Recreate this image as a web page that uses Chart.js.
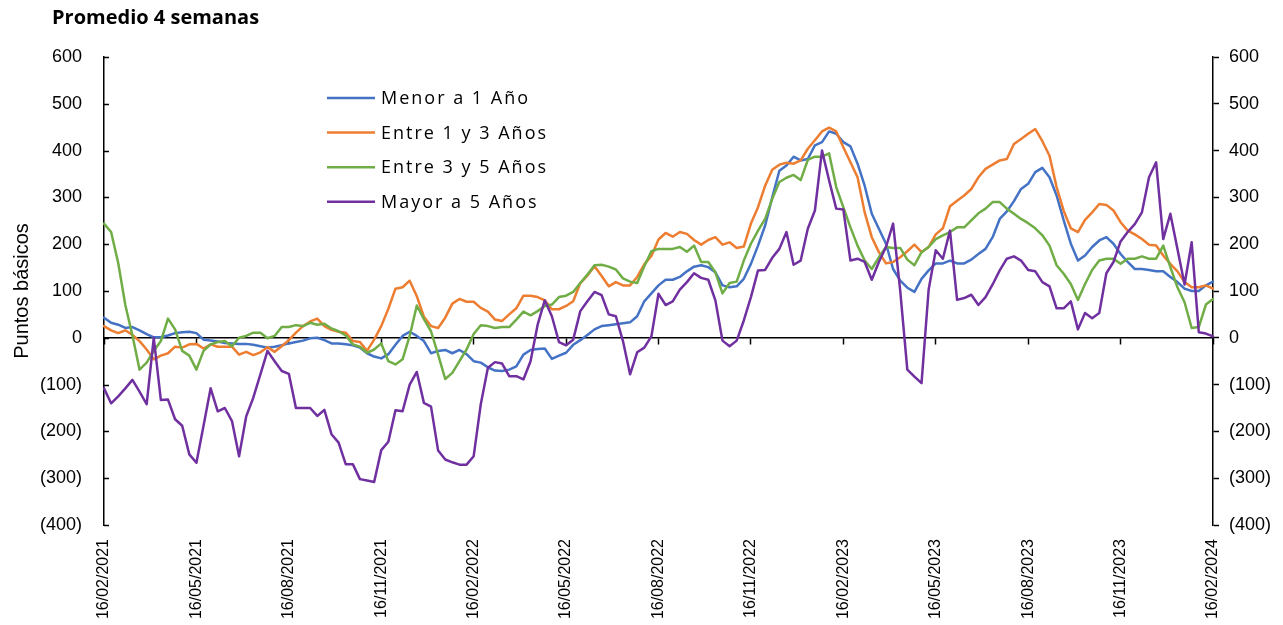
<!DOCTYPE html>
<html>
<head>
<meta charset="utf-8">
<script src="https://cdn.jsdelivr.net/npm/chart.js@4.4.1/dist/chart.umd.min.js"></script>
<style>
html,body{margin:0;padding:0;background:#fff;overflow:hidden}
#wrap{position:relative;width:1283px;height:625px}
</style>
</head>
<body>
<div id="wrap"><canvas id="c" width="1283" height="625"></canvas></div>
<script>
const chartTitle = 'Promedio 4 semanas';
const yAxisTitle = 'Puntos básicos';
const tickLabels = ['16/02/2021','16/05/2021','16/08/2021','16/11/2021','16/02/2022','16/05/2022','16/08/2022','16/11/2022','16/02/2023','16/05/2023','16/08/2023','16/11/2023','16/02/2024'];
const weeksPerTick = 13;
const seriesNames = ['Menor a 1 Año','Entre 1 y 3 Años','Entre 3 y 5 Años','Mayor a 5 Años'];
const seriesColors = ['#4472C4','#ED7D31','#70AD47','#7030A0'];

const menor1 = [
 43, 32, 28, 21, 23, 16, 8, 1, 1, 5,
 10, 12, 13, 10, -4, -6, -8, -11, -12, -13,
 -13, -15, -18, -21, -19, -16, -12, -9, -6, -1,
 0, -5, -12, -12, -14, -16, -21, -33, -40, -44,
 -35, -15, 4, 13, 4, -7, -33, -28, -26, -33,
 -26, -35, -50, -53, -63, -70, -71, -68, -61, -36,
 -26, -24, -23, -45, -38, -32, -15, -5, 6, 18,
 25, 27, 29, 31, 33, 46, 78, 95, 112, 124,
 124, 130, 142, 152, 155, 151, 140, 112, 108, 110,
 126, 158, 197, 240, 300, 357, 368, 387, 379, 382,
 411, 418, 441, 436, 418, 409, 372, 325, 265, 233,
 201, 147, 122, 107, 98, 126, 144, 159, 159, 165,
 159, 159, 167, 179, 190, 215, 254, 270, 292, 318,
 329, 354, 363, 343, 304, 251, 201, 165, 176, 194,
 208, 215, 201, 179, 162, 147, 147, 145, 142, 142,
 130, 119, 105, 100, 100, 112, 120
];
const entre1y3 = [
 25, 16, 10, 16, 6, -7, -25, -46, -38, -33,
 -19, -21, -14, -13, -23, -14, -19, -19, -19, -36,
 -30, -37, -31, -20, -30, -18, -5, 11, 25, 35,
 41, 25, 17, 13, 11, -7, -9, -28, -4, 25,
 62, 105, 108, 122, 89, 45, 25, 21, 43, 73,
 83, 77, 77, 64, 56, 39, 36, 50, 63, 90,
 90, 87, 80, 61, 61, 68, 78, 117, 133, 153,
 132, 110, 119, 112, 112, 130, 157, 175, 210, 224,
 216, 226, 222, 209, 199, 209, 215, 199, 204, 192,
 195, 244, 279, 325, 359, 370, 374, 372, 379, 404,
 422, 441, 449, 441, 407, 375, 343, 268, 215, 183,
 159, 162, 172, 185, 199, 183, 194, 221, 234, 281,
 293, 304, 318, 343, 361, 370, 379, 382, 414, 425,
 436, 446, 420, 389, 322, 271, 234, 226, 252, 268,
 286, 284, 272, 247, 229, 221, 211, 199, 197, 176,
 158, 142, 119, 108, 108, 112, 105
];
const entre3y5 = [
 244, 226, 160, 70, 5, -68, -53, -28, -7, 41,
 18, -28, -38, -68, -28, -14, -9, -7, -18, 0,
 4, 11, 11, -1, 4, 23, 23, 27, 25, 32,
 28, 30, 20, 14, 5, -14, -19, -32, -25, -12,
 -50, -57, -46, 4, 69, 40, 14, -36, -88, -75,
 -50, -25, 8, 27, 25, 21, 23, 23, 39, 56,
 48, 57, 68, 71, 87, 90, 98, 117, 135, 155,
 156, 152, 146, 127, 120, 117, 153, 185, 190, 190,
 190, 194, 184, 197, 162, 162, 140, 95, 117, 120,
 165, 201, 229, 254, 297, 333, 342, 348, 337, 380,
 387, 387, 394, 322, 279, 236, 197, 165, 147, 172,
 194, 192, 192, 167, 155, 183, 194, 211, 219, 226,
 236, 236, 251, 266, 276, 290, 290, 276, 265, 254,
 245, 234, 219, 197, 155, 137, 115, 81, 115, 145,
 165, 169, 169, 158, 169, 169, 174, 169, 169, 197,
 151, 108, 76, 21, 23, 71, 83
];
const mayor5 = [
 -108, -140, -125, -108, -90, -115, -142, 0, -133, -132,
 -174, -188, -249, -267, -188, -108, -157, -150, -178, -253,
 -168, -128, -78, -28, -50, -71, -77, -150, -150, -150,
 -167, -154, -206, -224, -270, -270, -302, -305, -308, -240,
 -222, -155, -157, -100, -73, -139, -147, -241, -260, -266,
 -271, -271, -253, -142, -64, -52, -55, -82, -82, -89,
 -50, 28, 80, 46, -9, -16, -4, 57, 78, 98,
 91, 50, 46, -7, -78, -31, -21, 3, 94, 70,
 78, 103, 119, 138, 128, 124, 80, -6, -18, -6,
 37, 87, 144, 145, 171, 190, 226, 156, 165, 233,
 272, 400, 336, 276, 274, 165, 169, 162, 124, 162,
 194, 244, 101, -68, -83, -97, 103, 187, 169, 229,
 81, 85, 92, 70, 87, 114, 144, 169, 174, 165,
 145, 142, 119, 110, 63, 63, 78, 18, 53, 42,
 53, 138, 162, 206, 226, 243, 268, 343, 375, 211,
 265, 190, 114, 204, 12, 9, 3
];
const seriesValues = [menor1, entre1y3, entre3y5, mayor5];

// weekly observation dates (category labels)
const startDate = Date.UTC(2021, 1, 16);
const categories = menor1.map((_, i) => new Date(startDate + i * 7 * 86400000).toISOString().slice(0, 10));

const fmt = v => v < 0 ? '(' + Math.abs(v) + ')' : String(v);
const axisFont = { family: '"Liberation Sans", Arial, sans-serif', size: 18 };

const decor = {
  id: 'decor',
  afterDraw(chart) {
    const ctx = chart.ctx;
    const ys = chart.scales.y;
    ctx.save();
    ctx.strokeStyle = '#000';
    ctx.lineWidth = 1.5;
    ys.ticks.forEach(t => {
      const py = Math.round(ys.getPixelForValue(t.value)) + 0.5;
      ctx.beginPath(); ctx.moveTo(ys.right, py); ctx.lineTo(ys.right + 5, py); ctx.stroke();
    });
    ctx.fillStyle = '#000';
    ctx.textAlign = 'left';
    ctx.textBaseline = 'middle';
    ctx.font = 'bold 20px "Open Sans", sans-serif';
    ctx.fillText(chartTitle, 52, 18);
    ctx.font = '18px "Open Sans", sans-serif';
    if ('letterSpacing' in ctx) ctx.letterSpacing = '2px';
    chart.data.datasets.forEach((ds, i) => {
      const ly = 98 + i * 34.6;
      ctx.strokeStyle = ds.borderColor;
      ctx.lineWidth = 2.5;
      ctx.beginPath(); ctx.moveTo(327, ly); ctx.lineTo(375, ly); ctx.stroke();
      ctx.fillStyle = '#000';
      ctx.fillText(ds.label, 381, ly + 1);
    });
    if ('letterSpacing' in ctx) ctx.letterSpacing = '0px';
    ctx.restore();
  }
};

new Chart(document.getElementById('c'), {
  type: 'line',
  data: {
    labels: categories,
    datasets: seriesNames.map((name, k) => ({
      label: name,
      data: seriesValues[k],
      borderColor: seriesColors[k],
      backgroundColor: seriesColors[k],
      borderWidth: 2.5,
      pointRadius: 0,
      tension: 0,
      borderJoinStyle: 'round',
      borderCapStyle: 'round',
      fill: false,
      order: seriesNames.length - k,
      xAxisID: 'x',
      yAxisID: 'y'
    }))
  },
  options: {
    responsive: false,
    animation: false,
    devicePixelRatio: 1,
    layout: { padding: { top: 57, left: 0, right: 0, bottom: 0 } },
    plugins: { legend: { display: false }, tooltip: { enabled: false }, title: { display: false } },
    scales: {
      x: {
        type: 'category', position: 'bottom', offset: false,
        grid: { display: false, drawTicks: false },
        border: { display: false },
        ticks: {
          autoSkip: false, minRotation: 90, maxRotation: 90, padding: 14, color: '#000',
          font: { family: '"Liberation Sans", Arial, sans-serif', size: 16 },
          callback: (v, i) => i % weeksPerTick === 0 ? tickLabels[i / weeksPerTick] : null
        },
        afterFit: s => { s.height = 100; }
      },
      x2: {
        type: 'category', position: { y: 0 }, offset: false,
        grid: {
          drawOnChartArea: false, drawTicks: true, tickLength: 6, tickWidth: 1.5,
          tickColor: c => (c.index % weeksPerTick === 0 ? '#000' : 'rgba(0,0,0,0)')
        },
        border: { display: true, color: '#000', width: 1.5 },
        ticks: { display: false, autoSkip: false }
      },
      y: {
        position: 'left', min: -400, max: 600,
        grid: { display: false, drawTicks: false },
        border: { display: true, color: '#000', width: 1.5 },
        ticks: { stepSize: 100, padding: 22, color: '#000', font: axisFont, callback: v => fmt(v) },
        title: { display: true, text: yAxisTitle, color: '#000', font: { family: '"Liberation Sans", Arial, sans-serif', size: 20 }, padding: { top: 10, bottom: 0 } },
        afterFit: s => { s.width = 104; }
      },
      y2: {
        position: 'right', min: -400, max: 600,
        grid: { drawOnChartArea: false, drawTicks: true, tickLength: 6, tickWidth: 1.5, tickColor: '#000', color: '#000' },
        border: { display: true, color: '#000', width: 1.5 },
        ticks: { stepSize: 100, padding: 10, color: '#000', font: axisFont, callback: v => fmt(v) },
        afterFit: s => { s.width = 70; }
      }
    }
  },
  plugins: [decor]
});
</script>
</body>
</html>
